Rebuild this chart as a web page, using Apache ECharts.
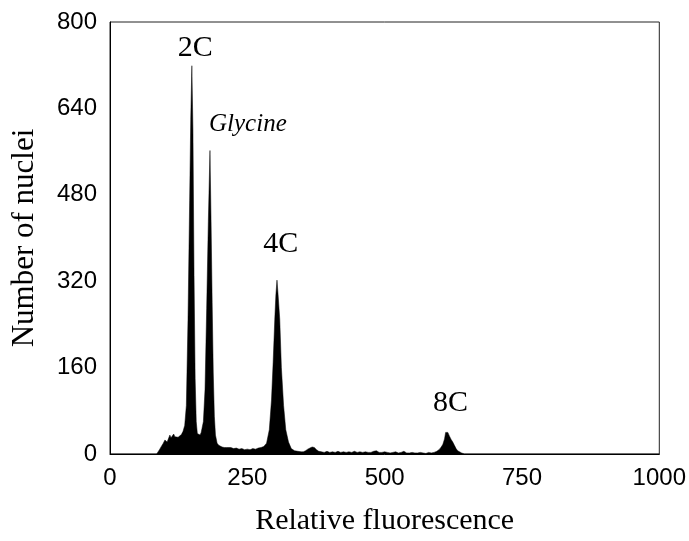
<!DOCTYPE html>
<html>
<head>
<meta charset="utf-8">
<script src="https://cdn.jsdelivr.net/npm/echarts@6/dist/echarts.min.js"></script>
<style>
    html, body { margin: 0; padding: 0; background: #fff; }
    #histChart { width: 689px; height: 541px; }
</style>
</head>
<body>
<div id="histChart"></div>
<script>
// fluorescence channel (x) and nuclei count (y)
var fluorescence = [0, 80, 85, 90, 94, 97, 100, 104, 107, 109, 111, 113, 116, 118, 121, 124, 127, 130, 133, 136,
    139, 142, 145, 147, 149, 151, 153, 155, 157, 159, 162, 164, 166, 170, 173, 176, 179, 182, 184, 186,
    188, 190, 192, 195, 198, 201, 204, 208, 212, 215, 220, 225, 230, 235, 240, 245, 250, 255, 260, 265,
    270, 275, 280, 285, 290, 294, 297, 300, 302, 304, 306, 309, 312, 316, 320, 325, 330, 336, 342, 348,
    352, 356, 360, 364, 368, 372, 376, 380, 385, 390, 395, 400, 405, 410, 415, 420, 425, 430, 435, 440,
    445, 450, 455, 460, 465, 470, 475, 480, 485, 490, 495, 500, 505, 510, 515, 520, 525, 530, 535, 540,
    545, 550, 555, 560, 565, 570, 575, 580, 585, 590, 595, 600, 603, 606, 609, 611, 613, 615, 618, 621,
    624, 627, 630, 633, 636, 640, 645, 1000];
var nuclei = [0, 0, 0, 8, 15, 20, 26, 22, 30, 35, 30, 33, 37, 32, 29, 31, 33, 36, 42, 53,
    90, 250, 470, 620, 719, 600, 330, 140, 60, 38, 36, 35, 40, 60, 120, 270, 430, 562, 430, 280,
    150, 70, 35, 20, 16, 15, 13, 12, 12, 11, 12, 10, 11, 9, 10, 8, 9, 8, 10, 9,
    11, 12, 14, 20, 45, 100, 170, 250, 295, 322, 295, 250, 160, 90, 45, 22, 10, 6, 5, 4,
    4, 6, 9, 11, 13, 12, 8, 5, 4, 3, 5, 3, 4, 3, 5, 3, 4, 3, 4, 3,
    5, 3, 4, 3, 4, 3, 3, 5, 6, 3, 3, 4, 3, 2, 3, 4, 2, 3, 5, 2,
    2, 3, 2, 2, 3, 2, 1, 3, 2, 3, 5, 9, 13, 18, 28, 40, 43, 40, 33, 27,
    22, 16, 10, 6, 4, 2, 0, 0];

// peak annotations
var peakNames = ['2C', 'Glycine', '4C', '8C'];
var peakX = [155, 251, 311, 620];
var peakY = [752, 610, 388, 94];

var xTicks = [0, 250, 500, 750, 1000];

var myChart = echarts.init(document.getElementById('histChart'));

var histData = [];
for (var i = 0; i < fluorescence.length; i++) {
    histData.push([fluorescence[i], nuclei[i]]);
}

var labelData = [];
for (var j = 0; j < peakNames.length; j++) {
    var item = { value: [peakX[j], peakY[j]], name: peakNames[j] };
    if (peakNames[j] == 'Glycine') {
        item.label = { fontStyle: 'italic', fontSize: 25 };
    }
    labelData.push(item);
}

var option = {
    animation: false,
    backgroundColor: '#fff',
    grid: {
        left: 110,
        right: 29,
        top: 22,
        bottom: 85,
        show: true,
        borderColor: '#222',
        borderWidth: 1
    },
    xAxis: {
        type: 'value',
        min: xTicks[0],
        max: xTicks[xTicks.length - 1],
        interval: 250,
        name: 'Relative fluorescence',
        nameLocation: 'middle',
        nameGap: 52,
        nameTextStyle: { fontFamily: 'Liberation Serif', fontSize: 30, color: '#000' },
        axisLine: { show: true, lineStyle: { color: '#000', width: 1 } },
        axisTick: { show: false },
        splitLine: { show: false },
        axisLabel: {
            fontFamily: 'Liberation Sans', fontSize: 24, color: '#000', margin: 12,
            formatter: function (v) { return String(v); }
        }
    },
    yAxis: {
        type: 'value',
        min: 0,
        max: 800,
        interval: 160,
        name: 'Number of nuclei',
        nameLocation: 'middle',
        nameGap: 70,
        nameTextStyle: { fontFamily: 'Liberation Serif', fontSize: 31, color: '#000' },
        axisLine: { show: true, lineStyle: { color: '#000', width: 1 } },
        axisTick: { show: false },
        splitLine: { show: false },
        axisLabel: {
            fontFamily: 'Liberation Sans', fontSize: 24, color: '#000', margin: 13,
            formatter: function (v) { return String(v); }
        }
    },
    series: [
        {
            name: 'nuclei',
            type: 'line',
            data: histData,
            symbol: 'none',
            smooth: false,
            lineStyle: { color: '#000', width: 0.5 },
            areaStyle: { color: '#000', opacity: 1 }
        },
        {
            name: 'peaks',
            type: 'scatter',
            data: labelData,
            symbolSize: 0,
            silent: true,
            itemStyle: { opacity: 1, color: '#000' },
            label: {
                show: true,
                position: 'inside',
                formatter: '{b}',
                fontFamily: 'Liberation Serif',
                fontSize: 30,
                color: '#000',
                opacity: 1
            }
        }
    ]
};

myChart.setOption(option, true);
</script>
</body>
</html>
